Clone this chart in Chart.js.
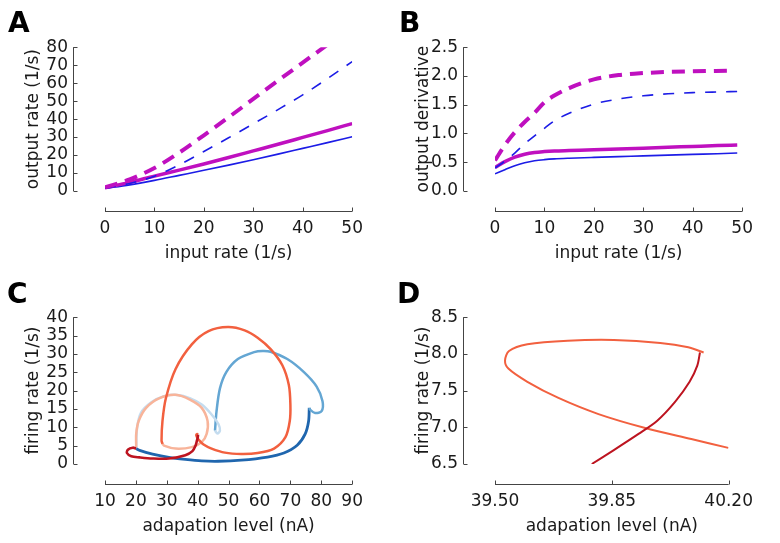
<!DOCTYPE html>
<html>
<head>
<meta charset="utf-8">
<script src="https://cdn.jsdelivr.net/npm/chart.js@4.4.1/dist/chart.umd.min.js"></script>
<style>
  body { margin: 0; background: #fff; }
  #fig { position: relative; width: 780px; height: 543px; }
  canvas { position: absolute; }
  .tag { position: absolute; font: bold 28px "DejaVu Sans"; line-height: 28px; color: #000; }
</style>
</head>
<body>
<div id="fig">
  <canvas id="chartA" width="390" height="270" style="left:0;top:0"></canvas>
  <canvas id="chartB" width="390" height="270" style="left:390px;top:0"></canvas>
  <canvas id="chartC" width="390" height="273" style="left:0;top:270px"></canvas>
  <canvas id="chartD" width="390" height="273" style="left:390px;top:270px"></canvas>
  <div class="tag" style="left:8px;top:9px">A</div>
  <div class="tag" style="left:399px;top:9px">B</div>
  <div class="tag" style="left:7px;top:280px">C</div>
  <div class="tag" style="left:397px;top:280px">D</div>
</div>
<script>
// --- A: output rate vs input rate
const inputA = [0, 5, 10, 15, 20, 25, 30, 35, 40, 45, 50];
const inputADash = [0, 5, 10, 15, 20, 25, 30, 35, 40, 45];
const rateBlue = [1.5, 3.4, 5.9, 8.7, 11.5, 14.4, 17.4, 20.5, 23.7, 26.9, 30.2];
const rateMagenta = [1.8, 4.8, 8.3, 11.6, 15.0, 18.6, 22.3, 26.0, 29.8, 33.6, 37.5];
const rateBlueDash = [1.5, 4.2, 8.2, 14.5, 22.0, 29.6, 37.4, 45.3, 53.5, 62.5, 72.0];
const rateMagentaDash = [2.0, 6.5, 12.8, 21.3, 31.0, 41.0, 51.2, 61.4, 71.4, 81.4];
const ticksAX = [0, 10, 20, 30, 40, 50];
const ticksAY = [0, 10, 20, 30, 40, 50, 60, 70, 80];

// --- B: output derivative vs input rate
const inputB = [0, 2, 4, 6, 8, 10, 12, 15, 20, 25, 30, 35, 40, 45, 49];
const inputBDash = [0, 2, 4, 6, 8, 10, 12, 15, 20, 25, 30, 35, 40, 47];
const derivBlue = [0.30, 0.37, 0.44, 0.49, 0.525, 0.545, 0.558, 0.570, 0.585, 0.598, 0.61, 0.623, 0.636, 0.648, 0.66];
const derivMagenta = [0.41, 0.51, 0.59, 0.64, 0.67, 0.685, 0.695, 0.703, 0.715, 0.73, 0.745, 0.76, 0.775, 0.79, 0.80];
const derivBlueDash = [0.40, 0.52, 0.66, 0.82, 0.96, 1.09, 1.22, 1.35, 1.51, 1.60, 1.655, 1.69, 1.71, 1.722, 1.73];
const derivMagentaDash = [0.53, 0.80, 1.02, 1.20, 1.36, 1.54, 1.66, 1.79, 1.94, 2.015, 2.05, 2.07, 2.08, 2.09];
const ticksBX = [0, 10, 20, 30, 40, 50];
const ticksBY = [0, 0.5, 1.0, 1.5, 2.0, 2.5];

// --- C: firing rate vs adaptation, six trajectory segments
const darkRedX = [20.1, 19.0, 17.4, 17.1, 18.5, 21.2, 25.4, 30.7, 36.0, 38.3, 39.3, 39.79, 39.93, 40.04, 40.11];
const darkRedY = [4.2, 4.45, 3.9, 3.0, 2.1, 1.8, 1.5, 1.5, 2.4, 3.5, 5.0, 6.5, 6.91, 7.35, 8.02];
const redX = [40.11, 39.85, 39.53, 39.7, 40.2, 41.9, 44.5, 48.8, 54.1, 59.4, 64.7, 68.4, 69.8, 70.0, 69.5, 67.4, 63.6, 59.4, 55.2, 49.8, 43.5, 38.1, 32.85, 29.7, 28.6, 28.3, 28.6];
const redY = [8.02, 8.19, 7.9, 7.45, 6.72, 5.3, 4.2, 3.1, 2.75, 3.0, 4.2, 7.3, 11.7, 16.2, 21.5, 26.9, 31.3, 34.4, 36.4, 37.3, 36.2, 32.6, 25.9, 17.9, 11.7, 6.4, 5.5];
const salmonX = [28.6, 29.1, 32.85, 38.1, 41.3, 42.9, 43.2, 41.3, 37.6, 32.85, 27.5, 23.3, 20.9, 20.1, 20.1];
const salmonY = [5.6, 5.0, 4.2, 4.6, 5.95, 8.2, 11.7, 15.3, 17.5, 18.85, 17.9, 15.3, 11.7, 8.2, 4.6];
const paleBlueX = [20.1, 20.4, 21.6, 25.0, 29.1, 33.4, 37.6, 41.3, 44.5, 46.7, 47.2, 46.4, 45.6];
const paleBlueY = [4.6, 9.9, 13.9, 16.8, 18.5, 18.8, 17.9, 16.2, 13.5, 10.9, 9.1, 8.3, 9.1];
const midBlueX = [45.6, 46.1, 47.2, 49.3, 53.0, 58.3, 61.0, 63.6, 69.0, 74.3, 78.5, 80.4, 80.1, 78.0, 76.4, 76.1];
const midBlueY = [9.1, 14.4, 20.6, 25.1, 28.6, 30.5, 30.8, 30.6, 28.6, 25.1, 21.1, 17.1, 14.4, 13.9, 14.8, 15.3];
const darkBlueX = [76.1, 75.9, 74.8, 72.2, 67.9, 62.6, 54.1, 46.6, 41.3, 36.0, 30.7, 25.4, 21.2, 20.1];
const darkBlueY = [15.3, 11.7, 8.2, 5.1, 3.0, 1.9, 1.05, 0.75, 0.85, 1.25, 1.8, 2.7, 3.7, 4.2];
const ticksCX = [10, 20, 30, 40, 50, 60, 70, 80, 90];
const ticksCY = [0, 5, 10, 15, 20, 25, 30, 35, 40];

// --- D: close-up of the turn near 40 nA
const dDarkRedX = [39.79, 39.856, 39.93, 39.986, 40.04, 40.083, 40.106, 40.114];
const dDarkRedY = [6.5, 6.69, 6.91, 7.09, 7.35, 7.62, 7.84, 8.02];
const dRedX = [40.125, 40.079, 39.995, 39.856, 39.718, 39.597, 39.542, 39.53, 39.54, 39.597, 39.69, 39.81, 39.95, 40.088, 40.199];
const dRedY = [8.02, 8.09, 8.15, 8.19, 8.18, 8.13, 8.04, 7.91, 7.80, 7.62, 7.40, 7.18, 6.99, 6.84, 6.72];
const ticksDX = [39.50, 39.85, 40.20];
const ticksDY = [6.5, 7.0, 7.5, 8.0, 8.5];

const FONT = { family: 'DejaVu Sans', size: 17 };
const TXT = '#1a1a1a';

const spines = {
  id: 'spines',
  afterDraw(chart) {
    const { ctx, chartArea, scales: { x, y } } = chart;
    const sx = Math.round(chartArea.left - 32) + 0.5;
    const sy = Math.round(chartArea.bottom + 20) + 0.5;
    ctx.save();
    ctx.strokeStyle = '#444';
    ctx.lineWidth = 1;
    ctx.beginPath();
    ctx.moveTo(sx, y.getPixelForValue(y.min));
    ctx.lineTo(sx, y.getPixelForValue(y.max));
    y.ticks.forEach(t => {
      const p = Math.round(y.getPixelForValue(t.value)) + 0.5;
      ctx.moveTo(sx, p); ctx.lineTo(sx + 4, p);
    });
    ctx.moveTo(x.getPixelForValue(x.min), sy);
    ctx.lineTo(x.getPixelForValue(x.max), sy);
    x.ticks.forEach(t => {
      const p = Math.round(x.getPixelForValue(t.value)) + 0.5;
      ctx.moveTo(p, sy); ctx.lineTo(p, sy - 4);
    });
    ctx.stroke();
    ctx.restore();
  }
};

function pts(xs, ys) {
  return xs.map((x, i) => ({ x, y: ys[i] }));
}

function line(xs, ys, color, width, dash, smooth) {
  return {
    data: pts(xs, ys),
    showLine: true,
    borderColor: color,
    borderWidth: width,
    borderDash: dash || [],
    pointRadius: 0,
    tension: 0.3,
    cubicInterpolationMode: smooth || 'default',
    fill: false
  };
}

function axis(ticks, digits, title, isX) {
  return {
    type: 'linear',
    min: ticks[0],
    max: ticks[ticks.length - 1],
    afterBuildTicks: s => { s.ticks = ticks.map(v => ({ value: v })); },
    afterFit: s => { if (isX) s.height = 79; else s.width = 105; },
    ticks: {
      font: FONT, color: TXT,
      padding: isX ? 27 : 37,
      autoSkip: false,
      maxRotation: 0,
      callback: v => Number(v).toFixed(digits)
    },
    grid: { display: false, drawTicks: false },
    border: { display: false },
    title: {
      display: true, text: title, font: FONT, color: TXT,
      padding: isX ? { top: 0, bottom: 6 } : { top: 23, bottom: 0 }
    }
  };
}

function makeChart(id, datasets, xs, ys, top) {
  return new Chart(document.getElementById(id), {
    type: 'scatter',
    data: { datasets },
    options: {
      responsive: false,
      animation: false,
      layout: { padding: { left: 0, right: 34, top, bottom: 0 } },
      plugins: { legend: { display: false }, tooltip: { enabled: false } },
      scales: { x: xs, y: ys }
    },
    plugins: [spines]
  });
}

const MAG = '#bf10bf';
const BLU = '#1c1ce6';

makeChart('chartA', [
  line(inputADash, rateMagentaDash, MAG, 4, [13, 8], 'monotone'),
  line(inputA, rateBlueDash, BLU, 1.6, [11, 10], 'monotone'),
  line(inputA, rateMagenta, MAG, 3.5, [], 'monotone'),
  line(inputA, rateBlue, BLU, 1.6, [], 'monotone')
], axis(ticksAX, 0, 'input rate (1/s)', true), axis(ticksAY, 0, 'output rate (1/s)', false), 42);

makeChart('chartB', [
  line(inputBDash, derivMagentaDash, MAG, 4, [13, 8], 'monotone'),
  line(inputB, derivBlueDash, BLU, 1.6, [11, 10], 'monotone'),
  line(inputB, derivMagenta, MAG, 3.5, [], 'monotone'),
  line(inputB, derivBlue, BLU, 1.6, [], 'monotone')
], axis(ticksBX, 0, 'input rate (1/s)', true), axis(ticksBY, 1, 'output derivative', false), 42);

makeChart('chartC', [
  line(darkRedX, darkRedY, '#bd1420', 2.6),
  line(redX, redY, '#f2603f', 2.5),
  line(salmonX, salmonY, '#f8b49a', 2.5),
  line(paleBlueX, paleBlueY, '#c4dcef', 2.5),
  line(midBlueX, midBlueY, '#64a6d3', 2.5),
  line(darkBlueX, darkBlueY, '#1f66ae', 2.8)
], axis(ticksCX, 0, 'adapation level (nA)', true), axis(ticksCY, 0, 'firing rate (1/s)', false), 44);

makeChart('chartD', [
  line(dDarkRedX, dDarkRedY, '#bd1420', 2),
  line(dRedX, dRedY, '#f2603f', 2)
], axis(ticksDX, 2, 'adapation level (nA)', true), axis(ticksDY, 1, 'firing rate (1/s)', false), 44);
</script>
</body>
</html>
